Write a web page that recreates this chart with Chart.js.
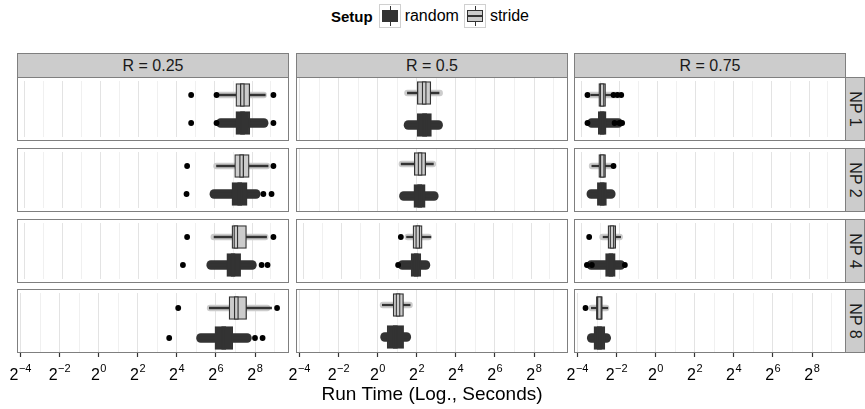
<!DOCTYPE html>
<html>
<head>
<meta charset="utf-8">
<script src="https://cdn.jsdelivr.net/npm/chart.js@4.4.1/dist/chart.umd.min.js"></script>
<style>
  body { margin: 0; background: #fff; font-family: "Liberation Sans", Arial, sans-serif; }
  #wrap { position: relative; width: 865px; height: 409px; overflow: hidden; background: #fff; }
  canvas { position: absolute; }
  .frame { position: absolute; border: 1px solid #7f7f7f; box-sizing: border-box; pointer-events: none; }
  .strip { position: absolute; background: #cccccc; border: 1px solid #7f7f7f; box-sizing: border-box;
           font-size: 16px; color: #1a1a1a; display: flex; align-items: center; justify-content: center; }
  .vstrip span { transform: rotate(90deg); white-space: nowrap; display: inline-block; }
  #legend { position: absolute; top: 4px; left: 0; width: 865px; height: 24px; display: flex;
            justify-content: center; align-items: center; font-size: 16px; color: #000; }
  #legend b { font-size: 15px; margin-right: 6px; }
  .key { position: relative; width: 22px; height: 24px; border: 1px solid #d0d0d0; box-sizing: border-box; margin: 0 4px 0 0; }
  .key .wh { position: absolute; left: 10px; top: 1px; width: 1.5px; height: 20px; background: #333; }
  .key .bx { position: absolute; left: 2px; top: 5px; width: 16px; height: 12px; box-sizing: border-box; border: 1px solid #333; }
  .key .md { position: absolute; left: 2px; top: 10px; width: 16px; height: 1.5px; background: #333; }
  .lbl { margin-right: 5px; }
</style>
</head>
<body>
<div id="wrap">
  <div id="legend">
    <b>Setup</b>
    <div class="key"><div class="wh"></div><div class="bx" style="background:#333"></div></div><span class="lbl">random</span>
    <div class="key"><div class="wh"></div><div class="bx" style="background:#cccccc"></div><div class="md"></div></div><span class="lbl">stride</span>
  </div>
</div>
<script>
// ---------------- data ----------------
const columnLabels = ['R = 0.25', 'R = 0.5', 'R = 0.75'];
const rowLabels = ['NP 1', 'NP 2', 'NP 4', 'NP 8'];
const setups = ['stride', 'random'];
const tickValues = [0.0625, 0.125, 0.25, 0.5, 1, 2, 4, 8, 16, 32, 64, 128, 256, 512];
const tickBase = '2';
const tickExponents = ['\u22124', '', '\u22122', '', '0', '', '2', '', '4', '', '6', '', '8', ''];
const axisTitle = 'Run Time (Log., Seconds)';

// panels ordered: R=0.25 (NP1, NP2, NP4, NP8), R=0.5 (...), R=0.75 (...)
// run times in seconds
const strideQ1        = [142, 136, 123, 102,   4.08, 3.66, 3.43, 1.73,   0.118, 0.118, 0.165, 0.122];
const strideMedian    = [180, 175, 142, 132,   5.21, 4.50, 4.08, 2.06,   0.133, 0.134, 0.191, 0.136];
const strideQ3        = [236, 231, 209, 190,   6.59, 5.50, 4.79, 2.50,   0.151, 0.151, 0.219, 0.151];
const strideWhiskerLo = [73.5, 70, 64, 50.6,   2.87, 2.30, 2.71, 1.18,   0.0884, 0.0915, 0.138, 0.102];
const strideWhiskerHi = [416, 461, 436, 461,   8.82, 7.21, 6.59, 3.16,   0.189, 0.196, 0.262, 0.183];
const strideSpreadLo  = [70, 63, 57, 47,       2.60, 2.13, 2.55, 1.09,   0.078, 0.083, 0.122, 0.0934];
const strideSpreadHi  = [436, 491, 461, 436,   9.99, 7.84, 6.73, 3.43,   0.272, 0.202, 0.281, 0.191];
const strideOutliers  = [[27.7, 70, 560], [23.9, 560], [23.9, 560], [16.8, 560],
                         [], [], [2.20], [],
                         [0.078, 0.202, 0.233, 0.268], [0.202], [0.083], [0.083]];

const randomQ1        = [142, 123, 102, 61.8,  4.08, 3.61, 3.20, 1.40,   0.116, 0.112, 0.151, 0.112];
const randomMedian    = [181, 163, 128, 84.4,  5.28, 4.44, 3.86, 1.87,   0.134, 0.134, 0.183, 0.136];
const randomQ3        = [236, 214, 169, 116,   6.73, 5.39, 4.56, 2.51,   0.154, 0.156, 0.215, 0.165];
const randomWhiskerLo = [73.5, 60, 52, 36,     2.70, 2.30, 2.10, 1.15,   0.085, 0.080, 0.090, 0.090];
const randomWhiskerHi = [416, 340, 290, 220,   9.50, 8.20, 6.20, 3.10,   0.250, 0.210, 0.280, 0.200];
const randomSpreadLo  = [70, 55, 49, 32.2,     2.55, 2.17, 2.00, 1.11,   0.078, 0.0764, 0.0764, 0.0884];
const randomSpreadHi  = [461, 345, 300, 225,   9.99, 8.57, 6.36, 3.23,   0.281, 0.215, 0.306, 0.202];
const randomOutliers  = [[27.7, 70, 560], [23.4, 388, 523], [20.5, 364, 452], [12.2, 256, 335],
                         [], [], [1.99], [],
                         [0.078, 0.21, 0.25, 0.277], [], [0.0764, 0.0915, 0.306], []];

// ---------------- layout & style ----------------
const colLeft = [17, 296, 574];
const rowTop = [77, 148, 219, 289];
const panelW = 272, panelH = 64;
const xMin = Math.pow(2, -4.18), xMax = Math.pow(2, 9.74);
const medianHalf = Math.pow(2, 0.11);
const strideFill = '#cccccc', randomFill = '#333333';
const FONT = '"Liberation Sans", Arial, sans-serif';

const wrap = document.getElementById('wrap');

function addDiv(cls, style, html) {
  const d = document.createElement('div');
  d.className = cls;
  Object.assign(d.style, style);
  if (html !== undefined) d.innerHTML = html;
  wrap.appendChild(d);
  return d;
}

columnLabels.forEach((t, c) => {
  addDiv('strip', { left: colLeft[c] + 'px', top: '53px', width: panelW + 'px', height: '25px' }, t);
});
rowLabels.forEach((t, r) => {
  addDiv('strip vstrip', { left: '845px', top: rowTop[r] + 'px', width: '20px', height: panelH + 'px' }, '<span>' + t + '</span>');
});

// power-of-two tick labels drawn at the scale's own tick positions
const powerLabels = {
  id: 'powerLabels',
  afterDraw(chart, args, opts) {
    if (!opts.show) return;
    const s = chart.scales.x;
    const ctx = chart.ctx;
    ctx.save();
    ctx.fillStyle = '#000';
    ctx.textBaseline = 'alphabetic';
    ctx.textAlign = 'left';
    s.ticks.forEach((t, idx) => {
      const exp = tickExponents[idx];
      if (!exp) return;
      const x = s.getPixelForValue(t.value);
      ctx.font = '16px ' + FONT;
      const wb = ctx.measureText(tickBase).width;
      ctx.font = '11px ' + FONT;
      const we = ctx.measureText(exp).width;
      const x0 = x - (wb + we + 0.5) / 2;
      const yBase = s.top + 27;
      ctx.font = '16px ' + FONT;
      ctx.fillText(tickBase, x0, yBase);
      ctx.font = '11px ' + FONT;
      ctx.fillText(exp, x0 + wb + 0.5, yBase - 8);
    });
    ctx.restore();
  }
};

function makePanel(c, r) {
  const i = c * 4 + r;
  const bottom = r === 3;
  const padX = bottom ? 20 : 0;
  const canvas = document.createElement('canvas');
  const w = panelW + 2 * padX, h = bottom ? 120 : panelH;
  canvas.width = w; canvas.height = h;
  canvas.style.left = (colLeft[c] - padX) + 'px';
  canvas.style.top = rowTop[r] + 'px';
  canvas.style.width = w + 'px'; canvas.style.height = h + 'px';
  wrap.appendChild(canvas);

  const outlierPts = strideOutliers[i].map(v => ({ x: v, y: 'stride' }))
    .concat(randomOutliers[i].map(v => ({ x: v, y: 'random' })));

  new Chart(canvas, {
    type: 'bar',
    plugins: [powerLabels],
    data: {
      labels: setups,
      datasets: [
        { type: 'scatter', label: 'outliers', data: outlierPts, backgroundColor: '#000', borderWidth: 0,
          pointRadius: 2.9, order: 0 },
        { label: 'median', data: [[strideMedian[i] / medianHalf, strideMedian[i] * medianHalf],
                                  [randomMedian[i] / medianHalf, randomMedian[i] * medianHalf]],
          backgroundColor: [strideFill, randomFill], borderColor: '#333', borderWidth: 1.3,
          borderSkipped: false, barThickness: 23, grouped: false, order: 1 },
        { label: 'box', data: [[strideQ1[i], strideQ3[i]], [randomQ1[i], randomQ3[i]]],
          backgroundColor: [strideFill, randomFill], borderColor: '#333', borderWidth: 1.3,
          borderSkipped: false, barThickness: 23, grouped: false, order: 2 },
        { label: 'whisker', data: [[strideWhiskerLo[i], strideWhiskerHi[i]], [randomWhiskerLo[i], randomWhiskerHi[i]]],
          backgroundColor: '#333', borderWidth: 0, barThickness: 1.6, grouped: false, order: 3 },
        { label: 'stride spread', data: [[strideSpreadLo[i], strideSpreadHi[i]], null],
          backgroundColor: strideFill, borderWidth: 0, borderRadius: 3, borderSkipped: false,
          barThickness: 6, grouped: false, order: 4 },
        { label: 'random spread', data: [null, [randomSpreadLo[i], randomSpreadHi[i]]],
          backgroundColor: randomFill, borderWidth: 0, borderRadius: 4.5, borderSkipped: false,
          barThickness: 9, grouped: false, order: 5 }
      ]
    },
    options: {
      indexAxis: 'y',
      responsive: false,
      animation: false,
      events: [],
      layout: { padding: { left: padX, right: padX, top: 0, bottom: 0 } },
      plugins: { legend: { display: false }, tooltip: { enabled: false }, powerLabels: { show: bottom } },
      scales: {
        y: { type: 'category', display: false, offset: true },
        x: {
          type: 'logarithmic', min: xMin, max: xMax,
          afterBuildTicks: s => { s.ticks = tickValues.map(v => ({ value: v })); },
          afterFit: s => { s.height = bottom ? 56 : 0; s.paddingLeft = 0; s.paddingRight = 0; },
          border: { display: false },
          grid: {
            color: ctx => (ctx.index % 2 === 0 ? '#e3e3e3' : '#f0f0f0'),
            lineWidth: 1,
            drawTicks: bottom,
            tickLength: 4,
            tickWidth: 1.2,
            tickColor: ctx => (ctx.index % 2 === 0 ? '#333' : 'rgba(0,0,0,0)')
          },
          ticks: { display: false, autoSkip: false, maxRotation: 0, minRotation: 0 },
          title: {
            display: bottom && c === 1, text: axisTitle, color: '#000',
            font: { family: FONT, size: 19 }, padding: { top: 0, bottom: 3 }
          }
        }
      }
    }
  });
  addDiv('frame', { left: colLeft[c] + 'px', top: rowTop[r] + 'px', width: panelW + 'px', height: panelH + 'px' });
}

for (let c = 0; c < 3; c++) for (let r = 0; r < 4; r++) makePanel(c, r);
</script>
</body>
</html>
